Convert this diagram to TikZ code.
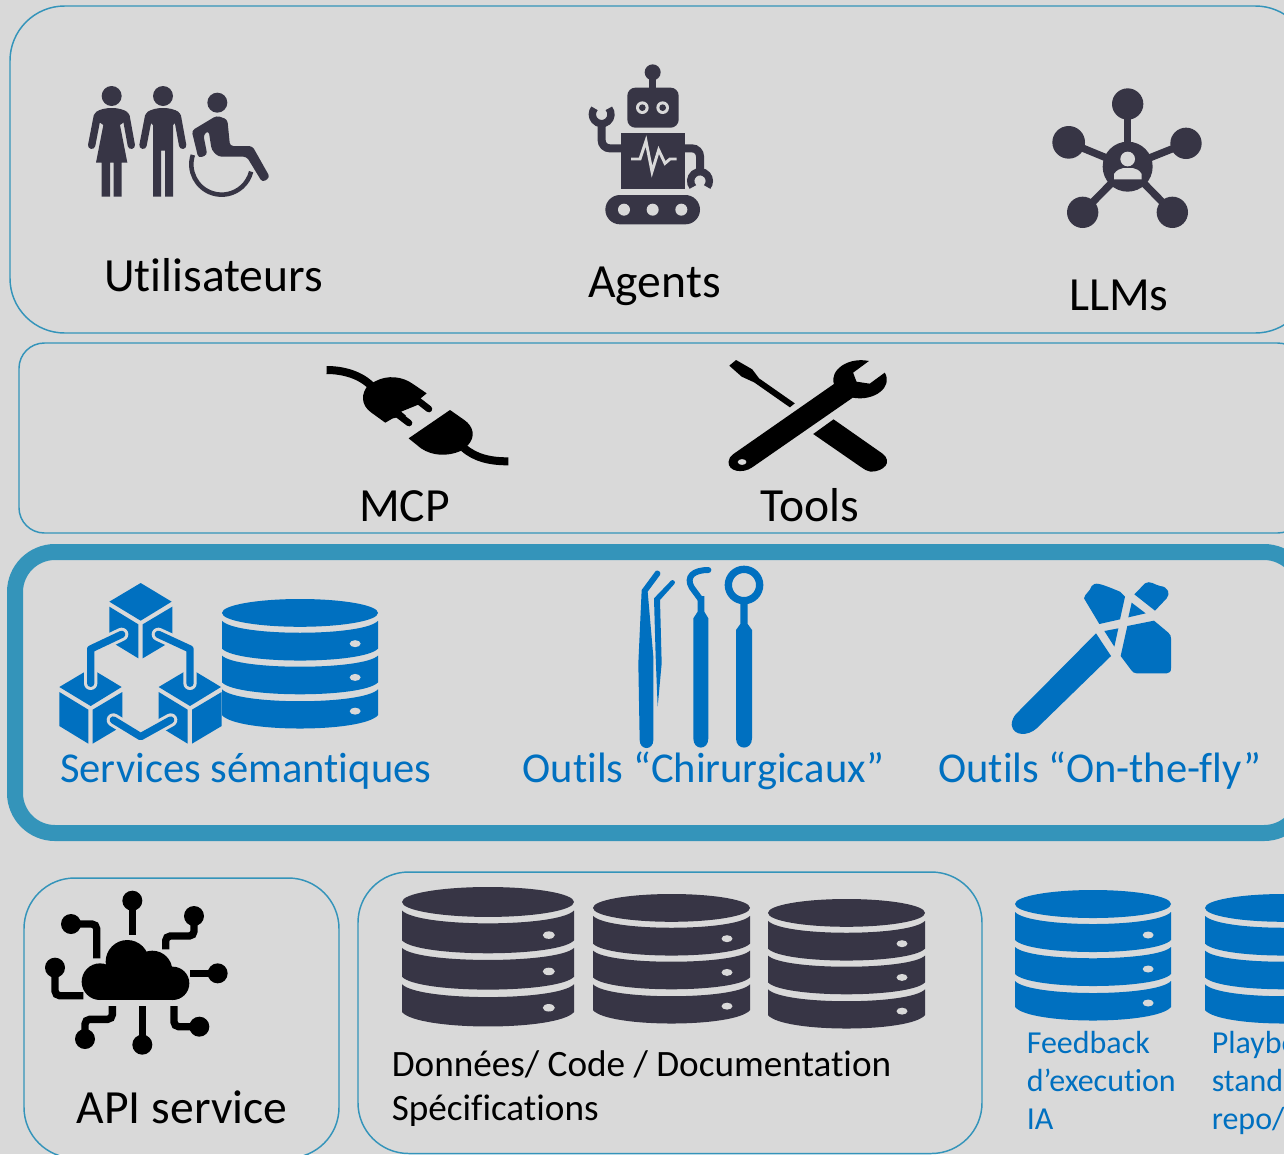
\documentclass[tikz,border=0pt]{standalone}
\usepackage{fontspec}
\setmainfont{Carlito}[Ligatures=TeX,RawFeature={-liga;-clig;-calt;-dlig}]
\definecolor{bgc}{HTML}{D9D9D9}
\definecolor{darkc}{HTML}{373545}
\definecolor{bluec}{HTML}{0070C0}
\definecolor{edgec}{HTML}{3494BA}
\newcommand\brk{\kern0pt{}}
\newcommand\dbicon[5]{%
\begin{scope}[shift={(#1,#2)},xscale=#3/157,yscale=#4/131]
\fill[#5] (78.5,14) ellipse [x radius=78.5,y radius=14];
\fill[#5] (0,22) .. controls (15,38) and (142,38) .. (157,22) -- (157,50) .. controls (142,66) and (15,66) .. (0,50) -- cycle;
\fill[#5] (0,57) .. controls (15,72) and (142,72) .. (157,57) -- (157,84) .. controls (142,100) and (15,100) .. (0,84) -- cycle;
\fill[#5] (0,91) .. controls (15,107) and (142,107) .. (157,91) -- (157,117) .. controls (142,135) and (15,135) .. (0,117) -- cycle;
\fill[bgc] (134,45) ellipse [x radius=5.5,y radius=3.5];
\fill[bgc] (134,79) ellipse [x radius=5.5,y radius=3.5];
\fill[bgc] (134,113) ellipse [x radius=5.5,y radius=3.5];
\end{scope}}
\tikzset{
  panel/.style={draw=edgec,line width=1.1pt},
  bigtxt/.style={anchor=base west,inner sep=0pt,font=\fontsize{35.7}{40}\selectfont,text=black},
  bluetxt/.style={anchor=base west,inner sep=0pt,font=\fontsize{31.9}{38}\selectfont,text=bluec},
  midtxt/.style={anchor=base west,inner sep=0pt,font=\fontsize{27.9}{32}\selectfont,text=black},
  smalltxt/.style={anchor=base west,inner sep=0pt,font=\fontsize{24}{28}\selectfont,text=bluec},
  zoomed/.style={scale=1/3},
  wire/.style={line width=5.5pt,line cap=butt,rounded corners=3.5pt},
}
\begin{document}
\begin{tikzpicture}[x=0.75pt,y=-0.75pt]
\useasboundingbox (0,0) rectangle (1284,1154);
\clip (0,0) rectangle (1284,1154);
\fill[bgc] (0,0) rectangle (1284,1154);
% panels
\draw[panel,rounded corners=41pt] (10,6) rectangle (1310,333);
\draw[panel,rounded corners=19pt] (19,343) rectangle (1303,533);
\draw[edgec,line width=12pt,rounded corners=30pt] (15,552) rectangle (1304,833);
\draw[panel,rounded corners=38pt] (24,878) rectangle (339,1158);
\draw[panel,rounded corners=38pt] (358,872) rectangle (982,1153.5);
% people
\begin{scope}[shift={(70,60)},zoomed,darkc]
\fill (125,108) circle (30);
\draw[line width=5.5pt,line cap=round] (82,168) -- (65,256);
\draw[line width=5.5pt,line cap=round] (168,168) -- (184,256);
\fill (78,156) .. controls (100,140) and (150,140) .. (172,156) -- (178,175) -- (150,195) -- (172,308) -- (155,308) -- (155,410) -- (131,410) -- (131,308) -- (120,308) -- (120,410) -- (95,410) -- (95,308) -- (78,308) -- (100,195) -- (72,175) -- cycle;
\fill (279,108) circle (30);
\draw[line width=5.5pt,line cap=round] (236,168) -- (219,256);
\draw[line width=5.5pt,line cap=round] (322,168) -- (338,256);
\fill (232,156) .. controls (254,140) and (304,140) .. (326,156) -- (330,175) -- (309,195) -- (309,410) -- (285,410) -- (285,272) -- (273,272) -- (273,410) -- (249,410) -- (249,195) -- (228,175) -- cycle;
\fill (442,128) circle (30);
\fill[rounded corners=2.5pt] (365,212) -- (440,167) -- (472,178) -- (480,258) -- (547,258) -- (600,352) -- (577,367) -- (530,290) -- (445,290) -- (425,270) -- (416,212) -- (400,224) -- (412,285) -- (385,294) -- cycle;
\draw[line width=3.4pt] (455,313) ++(198:91) arc (198:14:91);
\end{scope}
% robot
\begin{scope}[shift={(570,55)},zoomed,darkc]
\fill (248,52) circle (24);
\draw[line width=5.5pt] (248,60) -- (248,105);
\fill[rounded corners=6pt] (172,98) rectangle (326,218);
\foreach \ex in {217,278}{\fill[bgc] (\ex,158) circle (19); \fill (\ex,158) circle (10);}
\fill (153,235) rectangle (344,402);
\draw[bgc,line width=2.2pt,line join=miter] (183,312) -- (210,312) -- (228,258) -- (246,350) -- (266,285) -- (285,325) -- (300,312) -- (320,312);
\draw[line width=6pt,rounded corners=6pt] (155,280) -- (95,280) -- (95,210);
\draw[line width=5.5pt] (95,178) ++(-40:28) arc (-40:220:28);
\draw[line width=6pt,rounded corners=6pt] (344,280) -- (390,280) -- (390,345);
\draw[line width=5.5pt] (390,378) ++(140:28) arc (140:400:28);
\fill[rounded corners=11pt] (106,420) rectangle (390,508);
\foreach \hx in {162,248,334}{\fill[bgc] (\hx,464) circle (18);}
\end{scope}
% network
\begin{scope}[shift={(1040,80)},zoomed,darkc]
\draw[line width=5.5pt] (263,260) -- (263,72);
\draw[line width=5.5pt] (263,260) -- (86,187);
\draw[line width=5.5pt] (263,260) -- (438,190);
\draw[line width=5.5pt] (263,260) -- (128,397);
\draw[line width=5.5pt] (263,260) -- (397,397);
\fill (263,260) circle (75);
\fill (263,72) circle (47);
\fill (86,187) circle (49);
\fill (438,190) circle (47);
\fill (128,397) circle (47);
\fill (397,397) circle (47);
\fill[bgc] (263,237) circle (22);
\fill[bgc] (222,298) -- (222,282) .. controls (230,270) and (240,266) .. (250,264) -- (278,264) .. controls (288,266) and (298,270) .. (305,282) -- (305,298) -- cycle;
\end{scope}
% plug and tools
\begin{scope}[shift={(310,350)},xscale=1/2.657,yscale=1/3,black]
\draw[line width=6pt] (44,60) .. controls (90,60) and (135,75) .. (165,110);
\fill (175,93) .. controls (205,75) and (245,78) .. (275,103) -- (310,130) -- (293,146) -- (305,156) -- (242,185) -- (255,197) -- (220,205) -- (200,218) -- (162,187) .. controls (135,165) and (135,130) .. (155,105) -- cycle;
\draw[line width=5pt,line cap=round] (285,150) -- (316,177);
\draw[line width=5pt,line cap=round] (235,195) -- (263,219);
\fill (372,180) -- (410,210) .. controls (435,230) and (440,260) .. (420,285) -- (400,303) .. controls (365,320) and (325,318) .. (295,295) -- (262,265) -- cycle;
\draw[line width=6pt] (408,293) .. controls (440,325) and (480,334) .. (527,334);
\fill (1132,30) -- (1175,58) -- (1193,85) -- (1288,160) -- (1275,172) -- (1180,97) -- (1147,80) -- (1114,47) -- cycle;
\fill[even odd rule] (1125,312) -- (1392,102) .. controls (1380,60) and (1430,20) .. (1485,33) -- (1443,68) -- (1452,95) -- (1487,101) -- (1527,68) .. controls (1550,110) and (1500,155) .. (1442,143) -- (1175,352) .. controls (1150,372) and (1110,365) .. (1112,335) .. controls (1112,325) and (1118,318) .. (1125,312) -- cycle (1148,336) ellipse [x radius=12,y radius=9];
\fill (1391,208) -- (1520,310) .. controls (1550,335) and (1525,365) .. (1490,365) .. controls (1478,362) and (1472,358) .. (1465,352) -- (1337,252) -- cycle;
\end{scope}
% cubes
\begin{scope}[shift={(50,575)},zoomed,bluec]
\foreach \cx/\cy in {272/24,122/280,420/280}{
\begin{scope}[shift={(\cx-272,\cy-24)}]
\fill (272,24) -- (365,80) -- (272,137) -- (178,80) -- cycle;
\fill (178,95) -- (265,148) -- (265,250) -- (178,197) -- cycle;
\fill (278,148) -- (367,95) -- (367,197) -- (278,250) -- cycle;
\end{scope}}
\draw[bgc,line width=10pt,line cap=round,line join=round] (215,178) -- (122,222) -- (122,325);
\draw[bgc,line width=10pt,line cap=round,line join=round] (325,178) -- (420,222) -- (420,325);
\draw[bgc,line width=10pt,line cap=round,line join=round] (190,435) -- (272,485) -- (362,435);
\draw[line width=5.5pt,line cap=round,line join=round] (215,178) -- (122,222) -- (122,325);
\draw[line width=5.5pt,line cap=round,line join=round] (325,178) -- (420,222) -- (420,325);
\draw[line width=5.5pt,line cap=round,line join=round] (190,435) -- (272,485) -- (362,435);
\end{scope}
% surgical tools
\begin{scope}[shift={(625,560)},zoomed,bluec]
\fill (92,33) .. controls (98,28) and (110,36) .. (105,45) -- (68,95) -- (85,290) -- (85,540) .. controls (85,572) and (44,572) .. (44,540) -- (40,310) -- (50,90) -- cycle;
\fill (138,62) .. controls (144,56) and (154,66) .. (148,72) -- (105,120) -- (110,310) -- (98,440) -- (92,290) -- (87,115) -- cycle;
\fill (205,175) -- (218,155) -- (218,108) -- (238,108) -- (238,155) -- (250,175) -- (250,535) .. controls (250,572) and (205,572) .. (205,535) -- cycle;
\draw[line width=4.5pt,line cap=round] (228,120) -- (200,82) .. controls (182,50) and (205,30) .. (250,30);
\draw[line width=5.5pt] (357,75) circle (47);
\fill (333,210) -- (346,192) -- (346,130) -- (368,130) -- (368,192) -- (381,210) -- (381,535) .. controls (381,572) and (333,572) .. (333,535) -- cycle;
\end{scope}
% on-the-fly hammer
\begin{scope}[shift={(1000,570)},zoomed,bluec]
\fill (288,190) -- (333,258) -- (110,475) .. controls (85,498) and (40,500) .. (35,465) .. controls (35,450) and (42,438) .. (50,430) -- cycle;
\fill (252,85) .. controls (255,70) and (270,65) .. (275,48) .. controls (285,35) and (300,40) .. (360,65) -- (375,80) -- (360,148) -- (298,162) -- cycle;
\fill (403,73) -- (435,40) .. controls (450,30) and (465,45) .. (480,48) .. controls (505,50) and (512,72) .. (500,85) -- (465,122) -- cycle;
\fill (395,98) -- (437,130) -- (385,142) -- cycle;
\fill (313,183) -- (355,175) -- (343,230) -- cycle;
\fill (382,168) -- (462,152) -- (505,188) .. controls (511,194) and (513,198) .. (513,205) -- (513,295) .. controls (513,305) and (508,310) .. (500,310) -- (410,310) .. controls (403,310) and (398,306) .. (395,302) -- (362,258) -- cycle;
\end{scope}
% cloud
\begin{scope}[shift={(35,880)},zoomed,black]
\fill (195,305) circle (55);
\fill (277,245) circle (65);
\fill (352,272) circle (60);
\fill (413,310) circle (50);
\fill (195,300) rectangle (413,360);
\fill (292,62) circle (30);
\draw[wire] (292,62) -- (292,165);
\fill (477,108) circle (30);
\draw[wire] (477,108) -- (477,168) -- (392,168) -- (392,208);
\fill (548,280) circle (30);
\draw[line width=5pt] (465,280) -- (548,280);
\fill (493,440) circle (30);
\draw[wire] (417,378) -- (417,440) -- (493,440);
\fill (322,494) circle (30);
\draw[wire] (322,378) -- (322,494);
\fill (150,477) circle (30);
\draw[wire] (232,378) -- (232,418) -- (150,418) -- (150,477);
\fill (60,263) circle (30);
\draw[wire] (60,263) -- (60,347) -- (145,347);
\fill (108,132) circle (30);
\draw[wire] (108,132) -- (185,132) -- (185,235);
\end{scope}
% databases
\dbicon{222}{599}{156}{130}{bluec}
\dbicon{402}{887}{172}{140}{darkc}
\dbicon{593}{894}{157}{130}{darkc}
\dbicon{768}{899}{157}{130}{darkc}
\dbicon{1015}{890}{156}{131}{bluec}
\dbicon{1205}{894}{157}{130}{bluec}
% labels
\node[bigtxt] (tUsers) at (104,291) {Ut\brk ilisateurs};
\node[bigtxt] (tAgents) at (588,297) {Agents};
\node[bigtxt] (tLlms) at (1069,310) {LLMs};
\node[bigtxt] (tMcp) at (359,521) {MCP};
\node[bigtxt] (tTools) at (760.5,521) {Tools};
\node[bluetxt] (tSem) at (60,782) {Services sémant\brk iques};
\node[bluetxt] (tChir) at (522.5,782) {Out\brk ils “Chirurgicaux”};
\node[bluetxt] (tFly) at (938,782) {Out\brk ils “On-the-f\brk ly”};
\node[bigtxt] (tApi) at (76.5,1123) {API service};
\node[midtxt] (tData) at (391.5,1076) {Données/ Code / Documentat\brk ion};
\node[midtxt] (tSpec) at (391.5,1120.5) {Spécif\brk icat\brk ions};
\node[smalltxt] (tFb1) at (1026.5,1053) {Feedback};
\node[smalltxt] (tFb2) at (1026.5,1091.5) {d’execut\brk ion};
\node[smalltxt] (tFb3) at (1026.5,1129.5) {IA};
\node[smalltxt] (tPb1) at (1211.5,1053) {Playbo};
\node[smalltxt] (tPb2) at (1211.5,1091.5) {stand};
\node[smalltxt] (tPb3) at (1211.5,1129.5) {repo/};
\end{tikzpicture}
\end{document}
